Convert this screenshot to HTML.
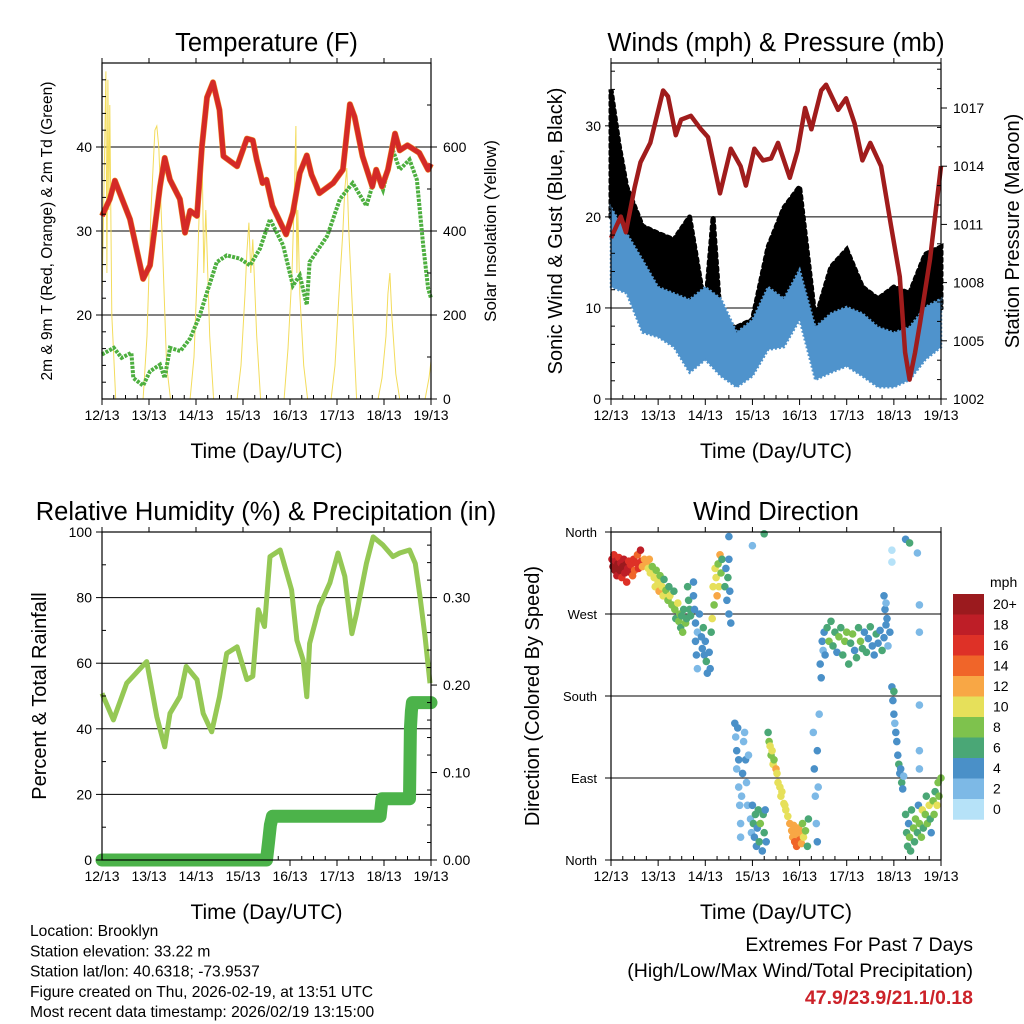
<!DOCTYPE html>
<html><head><meta charset="utf-8"><style>
html,body{margin:0;padding:0;background:#fff;}
svg{display:block;font-family:"Liberation Sans",sans-serif;}
</style></head><body>
<svg id="c" width="1024" height="1024" viewBox="0 0 1024 1024" xmlns="http://www.w3.org/2000/svg">
<rect width="1024" height="1024" fill="#fff"/>
<g id="g"></g>
</svg>
<script>
// ---------- DATA ----------
const dayLabels = ["12/13","13/13","14/13","15/13","16/13","17/13","18/13","19/13"];
const tempTicks = [20,30,40];
const solarTicks = [0,200,400,600];
const tempHours = [0,4,6.6,14.3,21,24.5,29.6,32,34.7,39.8,42.4,45,48.5,51,53.6,56.7,60,62,69,74,77,79,82,84,87,94,97.5,101,104.6,107,111,118,123,126.6,129,133,138,140,143,146,149.6,152,156,162,166.5,168];
const tempVals  = [31.8,33.8,36,31.4,24.3,25.9,35.3,38.7,36.1,33.8,29.8,32.4,31.8,40,45.9,47.7,44.4,38.9,37.7,41,40.8,38.5,35.7,36.1,33,29.6,32.2,36.9,39,36.7,34.5,35.7,37.3,45.1,43.6,38.9,35.3,37.3,35.3,37.3,41.6,39.6,40.2,39.3,37.3,38];
const dewHours  = [0,6,10,15,16,21,24.5,29.6,32,34.7,40,45,50,53.6,58.6,63.7,70.5,75.6,80.7,85.8,92.5,97.5,101,104.6,106,115,121.5,128,135,140,143.5,148.6,152,157,160.8,164,166.5,168];
const dewVals   = [15.3,16.1,14.9,15.5,12.5,11.6,13.3,14.1,12.5,16.1,15.7,17.2,20,22.7,26.3,27.1,26.7,25.9,27.9,31.4,28.3,23.5,24.7,21.2,26.3,29.4,33.8,35.7,33,36.9,34.9,39.6,37.3,38.5,36.1,28.3,23.2,22];
const solarHours = [0,1,2,2.5,3,3.5,4,5,6,7,21,23,25,27,28,29,31,33,35,45,47,49,50,51,52,53,55,57,69,71,73,74,75,76,77,79,81,93,95,97,98,99,99.5,100,101,103,105,117,119,121,123,124,125,126,128,130,141,143,145,146,147,148,150,152,165,167,168];
const solarVals  = [250,500,780,300,760,450,700,200,100,0,0,150,450,640,650,600,350,80,0,0,100,350,500,620,300,450,150,0,0,80,250,350,420,300,380,150,0,0,120,300,450,650,300,450,250,80,0,0,80,250,400,500,550,400,200,0,0,50,150,250,300,200,60,0,0,50,90];

const windTicks = [0,10,20,30];
const presTicks = [1002,1005,1008,1011,1014,1017];
const presHours = [0,5,7.6,12,15,20,26.5,29,33,35.7,40.7,45.8,49.4,55.5,61,66,68.7,73,77.4,81.5,85,91,95,98.8,102,107,109.5,115.6,119.7,124,128,132,137.5,142.6,147,149.7,152,154.8,157.3,162.4,168];
const presVals  = [1010.3,1011.4,1010.6,1012.9,1014.2,1015.2,1017.9,1017.6,1015.6,1016.4,1016.6,1015.9,1015.5,1012.6,1014.9,1014,1013,1014.9,1014.3,1014.4,1015.2,1013.4,1014.8,1017,1015.9,1017.9,1018.2,1016.9,1017.5,1016.2,1014.3,1015.2,1014,1010.9,1008.3,1004.4,1003,1004.4,1005.9,1009.2,1014];
const windHours = [0,8,16,24,32,40,48,56,64,72,80,88,96,104,112,120,128,136,144,152,160,168];
const windLo = [12.3,11.6,7.3,6.8,5.7,2.9,4.3,2.5,1.3,2.5,5.4,5.7,8.7,2.1,2.9,3.6,2.5,1.3,1.3,2.1,4.3,5.7];
const windHi = [21,18.2,15.3,12.3,11.6,10.9,12.3,11,7.3,8.7,12.3,11,14.2,7.9,9.4,10.1,9.4,7.9,7.3,7.9,10.1,11];
const gustHours = [0,4,8,16,24,32,40,48,52,56,64,72,80,88,96,104,112,120,128,136,144,152,160,168];
const gustLo = [20,19,17,14,11,10,10,11,10,10,6.5,8,11,10,13,7,8.5,9,8.5,7,6.5,7,9,10];
const gustHi = [34,28,23.3,19,18.2,17.5,20,9.8,20,7.9,7.9,8.7,16.7,21,23.3,8.7,14.5,16.4,12.3,11,12.3,11.6,15.9,16.7];

const rhTicks = [0,20,40,60,80,100];
const rainTicks = [0,0.1,0.2,0.3];
const rhHours = [0,5.8,12.6,22.8,28,32,34.7,39.8,43,48.5,51.7,56,60,63.7,69,74,77,79.8,83,85.8,91,96.8,99.5,102.7,104.6,106,111,116.4,120.5,124,127.6,130,135,138.5,143.5,148.6,152,157,160,162.4,165,167.5];
const rhVals  = [50.8,42.7,53.9,60.5,43.7,34.5,44.7,49.8,59,55,44.7,39.1,49.8,63,65,55,56,76.3,71.2,92.5,94.5,82.3,67,61,49.8,66,77.3,84.5,93.6,86.5,69,75.2,90.4,98.5,96,92.5,93.6,94.5,90.4,80.3,68,53.9];
const rainHours = [0,40,84,85,86,87,120,142,143,150,157,157.5,158,158.5,168];
const rainVals  = [0,0,0,0.02,0.04,0.05,0.05,0.05,0.07,0.07,0.07,0.15,0.17,0.18,0.18];

const dirLabels = ["North","West","South","East","North"];
const dirHours = [0.5,1,1.5,2,2.5,3,3.5,4,4.5,5,5.5,6,6.5,7,7.5,8,8.5,9,9.5,10,11,11.5,12,13,13.5,14,15,15.5,16,17,
 18,19,19.5,20,21,22,22.5,23,24,24.5,25,26,26.5,27,28,29,29.5,30,31,32,
 32.5,33,34,34.5,35,35.5,36,36.5,37,38,38.5,
 39,39.5,40,40.5,42,42,42.5,43,43,43.5,44,44,45,46,46.5,47,47.5,48,48.5,49,50,50.5,51,51.5,
 52,52.5,53,53.5,54,54.5,55,55.5,56,56.5,
 58,58.5,59,59.5,60,60,60.5,61,
 63,63.5,64,64,64.5,65,65,65.5,66,66,66.5,67,67.5,68,68.5,69,69.5,70,71,71.5,
 72,72.5,73,73.5,74,74.5,75,75.5,76,77,77.5,78,78.5,79,
 80,80.5,81,81.5,82,82.5,83,84,84.5,85,86,86.5,87,88,88.5,89,90,
 91,92,92.5,93,93.5,94,94.5,95,95.5,96,96.5,97,97.5,98,99,100,100.5,
 103,103.5,104,104.5,105,105,105.5,106,
 106.5,107,107.5,108,108.5,109,
 110,111,112,113,114,115,116,117,118,119,120,121,122,123,124,125,126,127,128,129,130,131,132,133,134,135,136,137,138,139,140,141,142,
 139,139.5,140,140.5,
 143,143.5,144,144,144.5,145,145.5,146,146.5,147,147.5,148,148.5,149,
 150,150.5,151,151.5,152,152.5,153,154,154.5,155,156,156.5,157,158,158.5,159,160,160.5,161,162,162.5,163,164,164.5,165,166,166.5,167,168,
 60,72,78,143,143,150,152,156,157,157,157,157,157];
const dirVals = [330,322,335,318,328,312,325,332,318,326,310,322,330,315,324,305,320,328,316,324,312,330,318,326,335,320,340,328,322,330,
 325,320,330,315,322,310,300,318,305,295,312,300,290,308,296,285,300,290,280,295,
 275,265,282,262,270,255,268,250,275,260,265,
 300,285,275,268,305,290,275,260,240,225,250,210,270,245,232,255,225,240,218,205,228,210,250,265,
 300,280,320,310,290,325,300,335,315,330,
 300,320,285,310,270,330,295,260,
 150,135,120,100,145,110,80,60,40,25,70,95,130,140,110,85,60,115,45,30,
 60,40,25,50,15,35,55,20,40,10,50,30,55,20,
 140,130,125,115,120,105,110,100,95,85,80,70,75,62,60,55,48,
 40,32,25,38,20,30,15,28,35,22,30,18,40,25,32,15,45,
 140,100,70,40,120,20,80,160,
 215,200,240,230,250,225,
 255,240,262,235,250,228,245,255,225,240,250,215,238,248,230,222,255,240,232,250,228,243,256,235,225,248,238,252,230,244,258,235,250,
 290,275,282,265,
 190,175,185,160,150,140,130,115,105,95,100,85,78,92,
 50,30,15,40,25,10,55,35,20,45,30,60,40,25,55,35,50,70,40,60,45,30,65,50,75,60,85,70,90,
 355,345,358,340,327,352,348,337,280,250,170,120,100];
const dirSpeeds = [18,20,17,21,19,18,21,16,20,19,17,21,18,19,20,16,18,17,19,16,15,17,14,16,15,17,18,16,13,12,
 12,10,13,11,9,10,11,8,10,12,9,11,10,7,9,8,7,10,8,7,
 8,7,10,9,8,7,6,8,7,9,6,
 7,6,7,6,4,4,5,4,5,4,3,3,4,5,4,6,4,5,6,5,4,5,7,10,
 11,9,10,11,13,9,10,12,8,7,
 6,4,5,6,4,4,5,4,
 4,3,4,3,4,4,2,2,2,2,3,4,3,2,4,3,2,3,2,2,
 5,6,4,7,4,5,6,7,8,4,6,7,4,5,
 7,8,10,9,10,11,8,12,10,11,10,10,11,10,11,10,10,
 12,13,12,13,14,12,14,13,12,14,13,12,9,10,8,7,6,
 3,4,3,2,4,4,3,3,
 4,4,4,3,4,5,
 7,8,7,6,7,5,8,6,7,9,8,6,7,8,5,7,6,8,7,5,6,4,7,5,4,6,5,4,6,5,4,3,5,
 4,4,3,4,
 4,5,6,4,3,4,5,4,6,4,5,6,4,3,
 6,7,6,5,8,7,6,9,6,8,7,4,9,8,10,7,9,6,8,10,7,5,8,9,7,10,9,8,8,
 4,2,6,1,1,4,6,3,2,2,3,2,2];
const cbarLabels = ["20+","18","16","14","12","10","8","6","4","2","0"];
const cbarColors = ["#9b1a1e","#be1e27","#de3127","#f06529","#f8a745","#e6e05a","#7ec24d","#4aa776","#4a90c8","#7db9e6","#b6e2f8"];

// ---------- HELPERS ----------
const NS="http://www.w3.org/2000/svg";
const root=document.getElementById('g');
function el(tag,attrs,parent,text){const e=document.createElementNS(NS,tag);for(const k in attrs)e.setAttribute(k,attrs[k]);if(text!==undefined)e.textContent=text;(parent||root).appendChild(e);return e;}
function lin(d0,d1,r0,r1){return v=>r0+(v-d0)/(d1-d0)*(r1-r0);}
function pathOf(xs,ys,fx,fy){return xs.map((x,i)=>(i?'L':'M')+fx(x).toFixed(1)+','+fy(ys[i]).toFixed(1)).join('');}
function band(xs,lo,hi,fx,fy){let d=xs.map((x,i)=>(i?'L':'M')+fx(x).toFixed(1)+','+fy(hi[i]).toFixed(1)).join('');for(let i=xs.length-1;i>=0;i--)d+='L'+fx(xs[i]).toFixed(1)+','+fy(lo[i]).toFixed(1);return d+'Z';}
function speedColor(s){let i=Math.min(10,Math.floor(s/2));return cbarColors[10-i];}

function panel(name,x0,x1,y0,y1,title){
  const g=el('g',{});
  
  
  const t=el('text',{x:(x0+x1)/2,y:y0-12,'text-anchor':'middle','font-size':25.5},g,title);
  
  
  const fx=lin(0,168,x0,x1);
  dayLabels.forEach((lab,i)=>{const x=fx(i*24);
    el('line',{x1:x,x2:x,y1:y1,y2:y1+6,stroke:'#000'},g);
    el('line',{x1:x,x2:x,y1:y0,y2:y0-5,stroke:'#000'},g);
    const tl=el('text',{x:x,y:y1+21,'text-anchor':'middle','font-size':14},g,lab);
    
    
  });
  for(let h=6;h<168;h+=6){if(h%24){const x=fx(h);el('line',{x1:x,x2:x,y1:y1,y2:y1-4,stroke:'#000'},g);}}
  const xt=el('text',{x:(x0+x1)/2,y:y1+59,'text-anchor':'middle','font-size':21},g,'Time (Day/UTC)');
  
  
  return {g,fx};
}
function frame(g,x0,x1,y0,y1){el('rect',{x:x0,y:y0,width:x1-x0,height:y1-y0,fill:'none',stroke:'#000','stroke-width':1.2},g);}
function yaxis(g,ticks,fy,x,side,fmt,fs,minor){
  ticks.forEach(v=>{const y=fy(v);
    el('line',{x1:x,x2:x+(side<0?-6:6),y1:y,y2:y,stroke:'#000'},g);
    const t=el('text',{x:x+(side<0?-10:12),y:y+5,'text-anchor':side<0?'end':'start','font-size':fs||14},g,fmt?fmt(v):String(v));
    
    
  });
  if(minor)minor.forEach(v=>{const y=fy(v);el('line',{x1:x,x2:x-side*4,y1:y,y2:y,stroke:'#000'},g);});
}
function ytitle(g,x,y,txt,fs,name){const t=el('text',{x:x,y:y,'text-anchor':'middle','font-size':fs,transform:`rotate(-90 ${x} ${y})`},g,txt);
  }
function grid(g,vals,fy,x0,x1){vals.forEach(v=>el('line',{x1:x0,x2:x1,y1:fy(v),y2:fy(v),stroke:'#000','stroke-width':1},g));}

// ---------- PANEL 1: Temperature ----------
(function(){
 const x0=102,x1=431,y0=63,y1=399;
 const {g,fx}=panel('temperature-panel',x0,x1,y0,y1,'Temperature (F)');
 const fy=lin(10,50,y1,y0), fs=lin(0,800,y1,y0);
 grid(g,tempTicks,fy,x0,x1);
 const sol=el('path',{d:pathOf(solarHours,solarVals,fx,fs),fill:'none',stroke:'#f3dc5c','stroke-width':1},g);
 
 const dw=el('path',{d:pathOf(dewHours,dewVals,fx,fy),fill:'none',stroke:'#4daf3f','stroke-width':4,'stroke-dasharray':'3 1.2'},g);
 
 const t9=el('path',{d:pathOf(tempHours,tempVals,fx,fy),fill:'none',stroke:'#f0902a','stroke-width':6,'stroke-linejoin':'round'},g);
 
 const t2=el('path',{d:pathOf(tempHours,tempVals,fx,fy),fill:'none',stroke:'#d42a27','stroke-width':5,'stroke-linejoin':'round'},g);
 
 frame(g,x0,x1,y0,y1);
 yaxis(g,tempTicks,fy,x0,-1,null,14,[12,14,16,18,22,24,26,28,32,34,36,38,42,44,46,48]);
 yaxis(g,solarTicks,fs,x1,1,null,14,[100,300,500,700]);
 ytitle(g,52,231,'2m & 9m T (Red, Orange) & 2m Td (Green)',15.5,'left-y-axis-title');
 ytitle(g,496,231,'Solar Insolation (Yellow)',17,'right-y-axis-title');
})();

// ---------- PANEL 2: Winds ----------
(function(){
 const x0=611,x1=941,y0=63,y1=399;
 const {g,fx}=panel('winds-panel',x0,x1,y0,y1,'Winds (mph) & Pressure (mb)');
 const fy=lin(0,36.9,y1,y0), fp=lin(1002,1019.32,y1,y0);
 grid(g,[10,20,30],fy,x0,x1);
 const gb=el('path',{d:band(gustHours,gustLo,gustHi,fx,fy),fill:'#000',stroke:'#000','stroke-width':5,'stroke-dasharray':'3 4','stroke-linecap':'round'},g);
 
 const wb=el('path',{d:band(windHours,windLo,windHi,fx,fy),fill:'#4f93cc',stroke:'#4f93cc','stroke-width':2.5,'stroke-dasharray':'2 2'},g);
 
 const pl=el('path',{d:pathOf(presHours,presVals,fx,fp),fill:'none',stroke:'#a01c1c','stroke-width':4.5,'stroke-linejoin':'round'},g);
 
 frame(g,x0,x1,y0,y1);
 yaxis(g,windTicks,fy,x0,-1,null,14,[2,4,6,8,12,14,16,18,22,24,26,28,32,34,36]);
 yaxis(g,presTicks,fp,x1,1,null,14,[1003,1004,1006,1007,1009,1010,1012,1013,1015,1016,1018,1019]);
 ytitle(g,562,231,'Sonic Wind & Gust (Blue, Black)',20,'left-y-axis-title');
 ytitle(g,1019,231,'Station Pressure (Maroon)',20,'right-y-axis-title');
})();

// ---------- PANEL 3: RH ----------
(function(){
 const x0=102,x1=431,y0=532,y1=860;
 const {g,fx}=panel('humidity-precip-panel',x0,x1,y0,y1,'Relative Humidity (%) & Precipitation (in)');
 g.querySelector('text').setAttribute('x',266);
 const fy=lin(0,100,y1,y0), fr=lin(0,0.375,y1,y0);
 grid(g,[20,40,60,80],fy,x0,x1);
 const rl=el('path',{d:pathOf(rhHours,rhVals,fx,fy),fill:'none',stroke:'#95c855','stroke-width':5,'stroke-linejoin':'round'},g);
 
 const rp=el('path',{d:pathOf(rainHours,rainVals,fx,fr),fill:'none',stroke:'#4cb34a','stroke-width':13,'stroke-linecap':'round','stroke-linejoin':'round'},g);
 
 frame(g,x0,x1,y0,y1);
 yaxis(g,rhTicks,fy,x0,-1,null,14,[10,30,50,70,90]);
 yaxis(g,rainTicks,fr,x1,1,v=>v.toFixed(2),14,[0.02,0.04,0.06,0.08,0.12,0.14,0.16,0.18,0.22,0.24,0.26,0.28,0.32,0.34,0.36]);
 ytitle(g,46,696,'Percent & Total Rainfall',20,'left-y-axis-title');
})();

// ---------- PANEL 4: Wind Direction ----------
(function(){
 const x0=611,x1=941,y0=532,y1=860;
 const {g,fx}=panel('wind-direction-panel',x0,x1,y0,y1,'Wind Direction');
 const fd=lin(360,0,y0,y1);
 grid(g,[270,180,90],fd,x0,x1);
 dirHours.forEach((h,i)=>{
   const c=el('circle',{cx:fx(h).toFixed(1),cy:fd(dirVals[i]).toFixed(1),r:3.8,fill:speedColor(dirSpeeds[i])},g);
   
   
 });
 frame(g,x0,x1,y0,y1);
 [360,270,180,90,0].forEach((v,i)=>{const y=fd(v);
   el('line',{x1:x0,x2:x0-6,y1:y,y2:y,stroke:'#000'},g);
   const t=el('text',{x:x0-14,y:y+5,'text-anchor':'end','font-size':13},g,dirLabels[i]);
   });
 ytitle(g,539,696,'Direction (Colored By Speed)',20,'left-y-axis-title');
 const cb=el('g',{},g);
 
 
 el('text',{x:990,y:587,'font-size':14},cb,'mph');
 cbarColors.forEach((c,i)=>{
   el('rect',{x:953,y:594+i*20.5,width:31,height:20.7,fill:c},cb);
   el('text',{x:993,y:609+i*20.5,'font-size':14},cb,cbarLabels[i]);
 });
})();

// ---------- FOOTER ----------
const info=["Location: Brooklyn","Station elevation: 33.22 m","Station lat/lon: 40.6318; -73.9537","Figure created on Thu, 2026-02-19, at 13:51 UTC","Most recent data timestamp: 2026/02/19 13:15:00"];
info.forEach((s,i)=>{const t=el('text',{x:30,y:936+i*20.3,'font-size':15.6},root,s);
 });
let t1=el('text',{x:973,y:951,'text-anchor':'end','font-size':19.5},root,'Extremes For Past 7 Days');

let t2=el('text',{x:973,y:977,'text-anchor':'end','font-size':19.5},root,'(High/Low/Max Wind/Total Precipitation)');

let t3=el('text',{x:973,y:1004,'text-anchor':'end','font-size':19.5,'font-weight':'bold',fill:'#cc2229'},root,'47.9/23.9/21.1/0.18');

</script>
</body></html>
